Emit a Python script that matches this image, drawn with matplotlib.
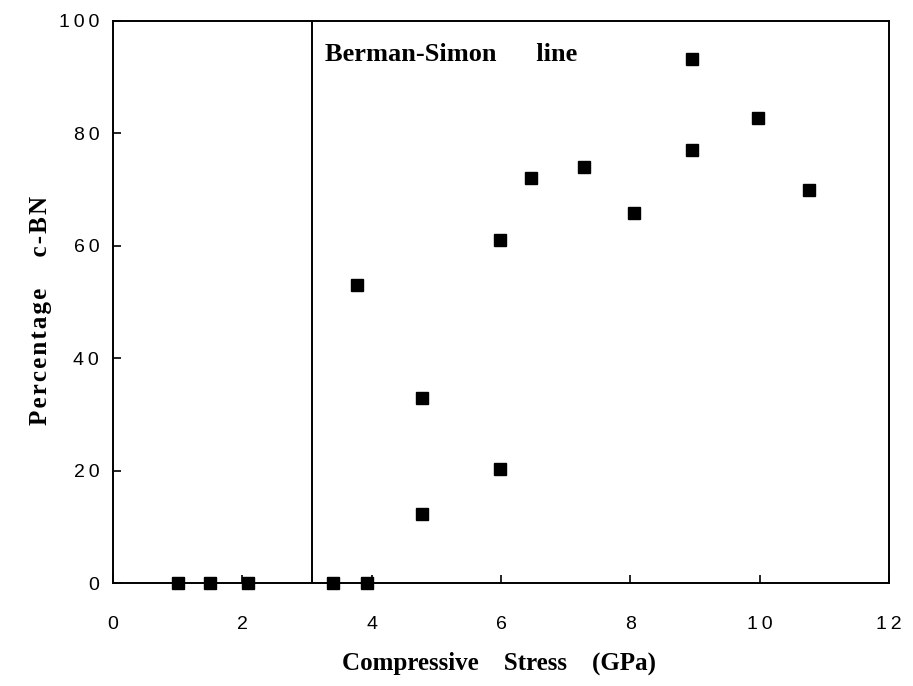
import matplotlib
matplotlib.use("Agg")
import matplotlib.pyplot as plt

stress = [1.0, 1.5, 2.08, 3.4, 3.92, 3.78, 4.78, 4.78, 5.98, 5.99, 6.47, 7.28, 8.05, 8.95, 8.96, 9.97, 10.77]
percent = [0, 0, 0, 0, 0, 53, 33, 12.3, 61, 20.3, 72, 74, 65.8, 77, 93.2, 82.8, 69.9]
berman_simon_x = 3.07

xticks = [0, 2, 4, 6, 8, 10, 12]
yticks = [0, 20, 40, 60, 80, 100]


def spaced(s, sep="\u2009"):
    return sep.join(s)


sans = ["Liberation Sans", "DejaVu Sans"]
serif = ["Liberation Serif", "DejaVu Serif"]

fig = plt.figure(figsize=(9.13, 6.86), dpi=100)
ax = fig.add_axes([0.1238, 0.150, 0.8499, 0.8194])

ax.plot(stress, percent, linestyle="none", marker="s", markersize=8.6,
        color="black", clip_on=False, zorder=3)
ax.axvline(berman_simon_x, color="black", linewidth=1.4)

ax.set_xlim(0, 12)
ax.set_ylim(0, 100)
ax.set_xticks(xticks)
ax.set_yticks(yticks)
ax.set_xticklabels([spaced(str(t)) for t in xticks], fontfamily=sans, fontsize=14)
ax.set_yticklabels([spaced(str(t)) for t in yticks], fontfamily=sans, fontsize=14)
ax.tick_params(direction="in", length=6, width=1.2)
ax.tick_params(axis="x", pad=24)
ax.tick_params(axis="y", pad=10)
for s in ax.spines.values():
    s.set_linewidth(1.4)

ax.text(3.28, 94.0, "Berman-Simon      line", fontfamily=serif,
        fontweight="bold", fontsize=19, va="center", ha="left")

ax.set_xlabel("Compressive    Stress    (GPa)", fontfamily=serif,
              fontweight="bold", fontsize=18)
ax.xaxis.set_label_coords(0.497, -0.122)
ax.xaxis.label.set_va("top")
ax.set_ylabel(spaced("Percentage", "\u200a") + "     " + spaced("c-BN", "\u200a"),
              fontfamily=serif, fontweight="bold", fontsize=18)
ax.yaxis.set_label_coords(-0.079, 0.485)

fig.savefig("out.png", dpi=100)
